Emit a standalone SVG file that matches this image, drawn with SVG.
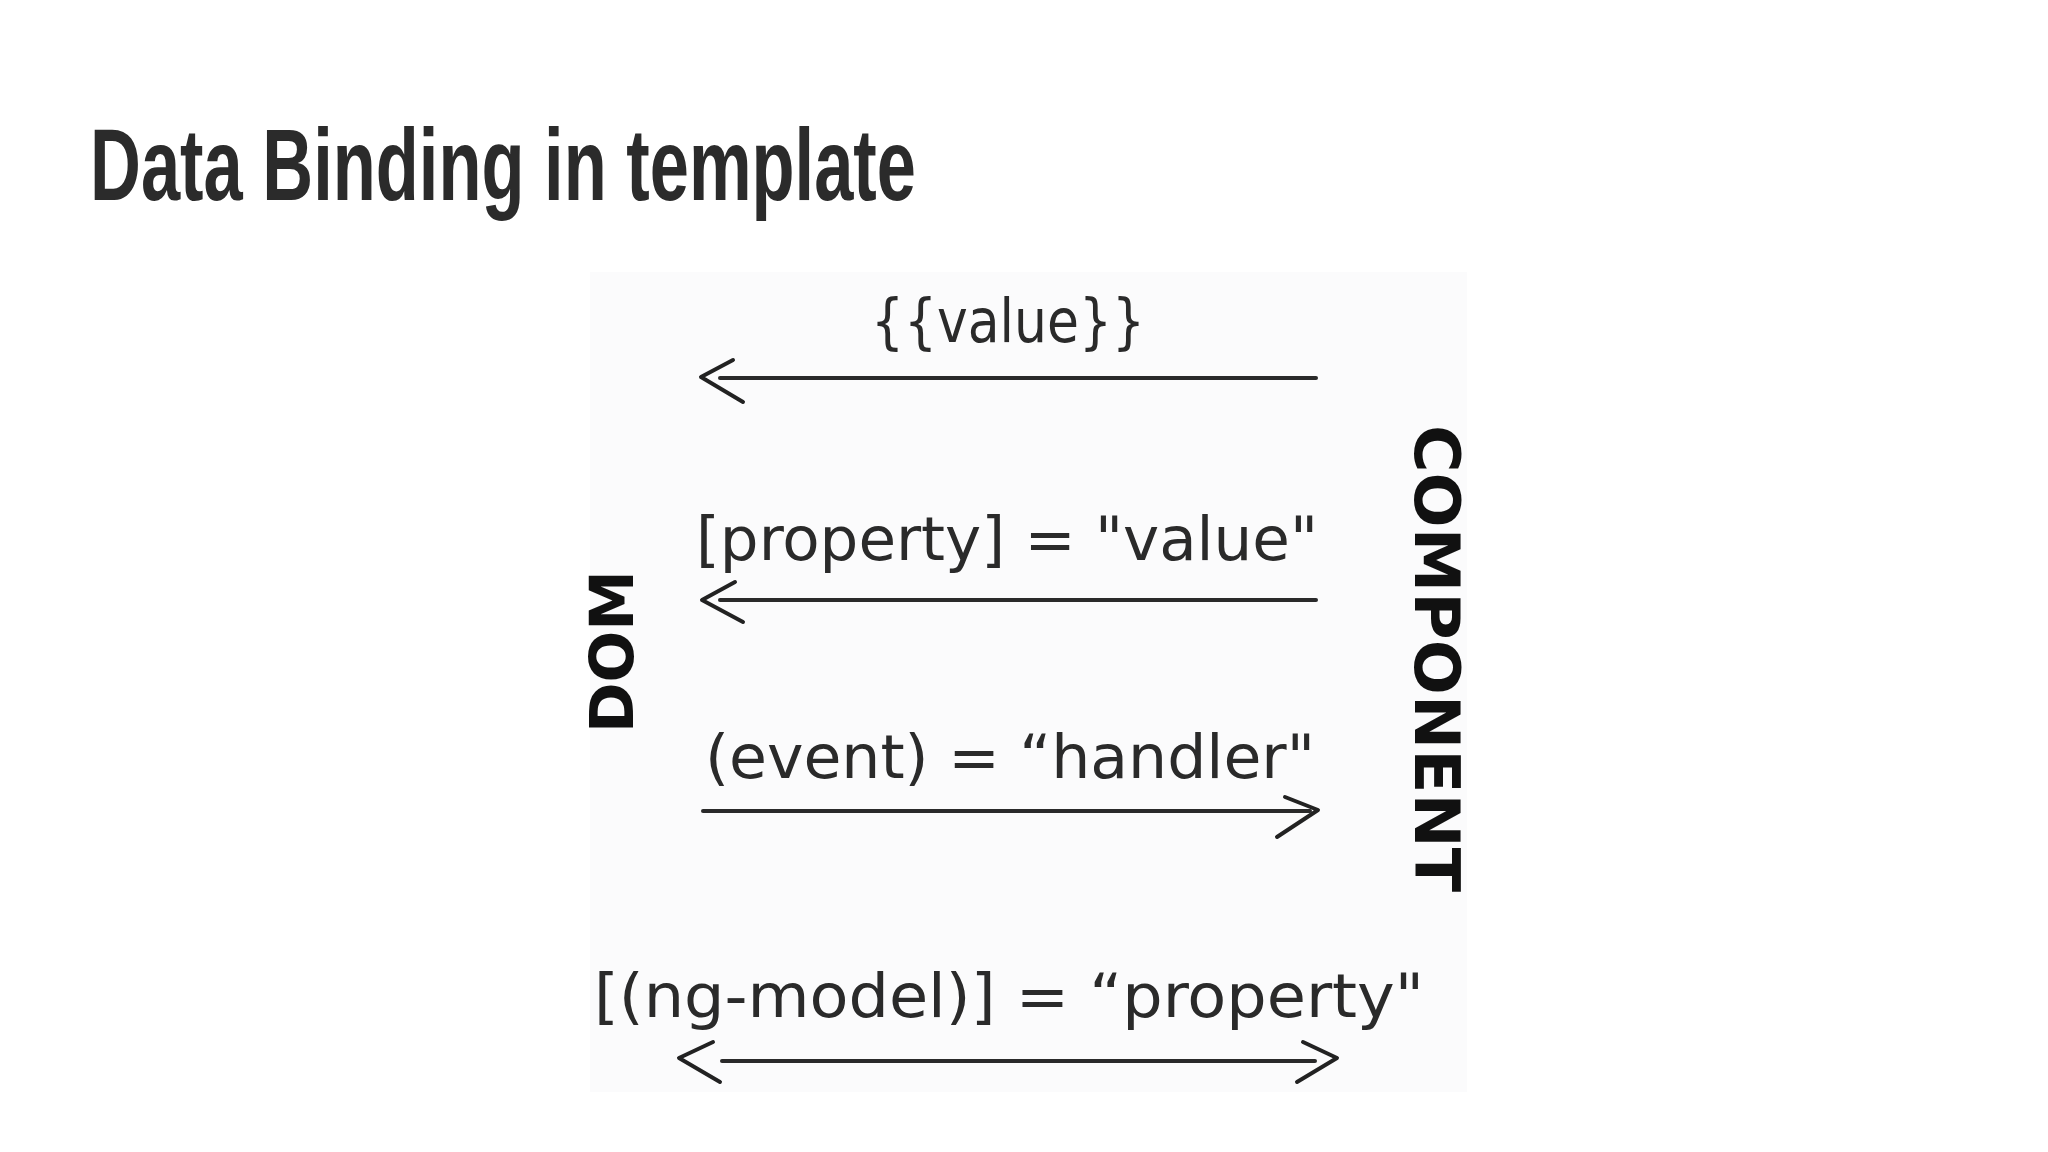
<svg xmlns="http://www.w3.org/2000/svg" width="2048" height="1152" viewBox="0 0 2048 1152">
  <style>
    .title { font-family: "Liberation Sans Narrow", "Liberation Sans", "DejaVu Sans Condensed", sans-serif; font-weight: bold; font-size: 102px; fill: #2b2b2b; }
    .hand { font-family: "Liberation Sans Narrow", "DejaVu Sans Condensed", "Liberation Sans", sans-serif; font-size: 60px; fill: #2a2a2a; }
    .side { font-family: "DejaVu Sans", "Liberation Sans", sans-serif; font-weight: bold; fill: #111; }
    .line { stroke: #2a2a2a; stroke-width: 4; fill: none; stroke-linecap: round; }
    .head { stroke: #222; stroke-width: 4; fill: none; stroke-linecap: round; stroke-linejoin: round; }
  </style>
  <rect width="2048" height="1152" fill="#ffffff"/>
  <text class="title" x="90" y="200" textLength="826" lengthAdjust="spacingAndGlyphs">Data Binding in template</text>
  <rect x="590" y="272" width="877" height="820" fill="#fbfbfc"/>

  <g id="dom">
    <text class="side" font-size="60" transform="translate(633,733) rotate(-90)" textLength="163" lengthAdjust="spacingAndGlyphs">DOM</text>
  </g>
  <g id="component">
    <text class="side" font-size="62" transform="translate(1415,425) rotate(90)" textLength="467" lengthAdjust="spacingAndGlyphs">COMPONENT</text>
  </g>

  <g id="interpolation">
    <text class="hand" x="871" y="342" font-size="58" textLength="274" lengthAdjust="spacingAndGlyphs">{{value}}</text>
  </g>
  <g id="property-binding">
    <text class="hand" x="696" y="560" font-size="62" textLength="622" lengthAdjust="spacingAndGlyphs">[property] = "value"</text>
  </g>
  <g id="event-binding">
    <text class="hand" x="705" y="778" font-size="60" textLength="610" lengthAdjust="spacingAndGlyphs">(event) = “handler"</text>
  </g>
  <g id="two-way-binding">
    <text class="hand" x="594" y="1017" font-size="62" textLength="830" lengthAdjust="spacingAndGlyphs">[(ng-model)] = “property"</text>
  </g>

  <g id="connectors">
    <line class="line" x1="720" y1="378" x2="1316" y2="378"/>
    <path class="head" d="M733,360 L701,377 L743,402"/>
    <line class="line" x1="720" y1="600" x2="1316" y2="600"/>
    <path class="head" d="M735,582 L702,600 L743,622"/>
    <line class="line" x1="703" y1="811" x2="1310" y2="811"/>
    <path class="head" d="M1285,797 L1318,810 L1277,837"/>
    <line class="line" x1="722" y1="1061" x2="1315" y2="1061"/>
    <path class="head" d="M713,1042 L679,1058 L720,1082"/>
    <path class="head" d="M1303,1042 L1337,1058 L1297,1082"/>
  </g>
</svg>
